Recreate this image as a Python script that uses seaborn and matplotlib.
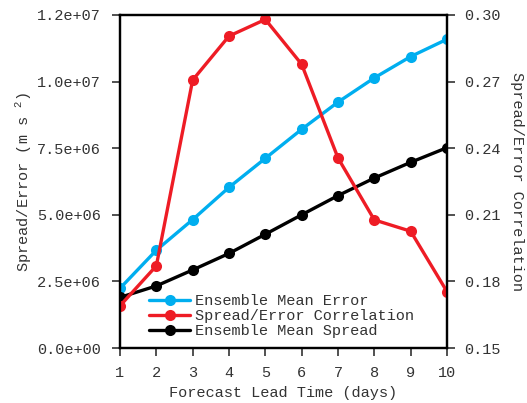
import pandas as pd
import matplotlib
matplotlib.use("Agg")
import matplotlib.pyplot as plt
from matplotlib.ticker import FormatStrFormatter, MultipleLocator
from matplotlib.lines import Line2D
import seaborn as sns

# Datos
dias = [1, 2, 3, 4, 5, 6, 7, 8, 9, 10]
error_medio = [2.24e6, 3.67e6, 4.82e6, 6.03e6, 7.12e6, 8.21e6, 9.23e6, 10.14e6, 10.94e6, 11.59e6]
dispersion_media = [1.90e6, 2.33e6, 2.93e6, 3.55e6, 4.27e6, 5.00e6, 5.72e6, 6.38e6, 6.97e6, 7.52e6]
correlacion = [0.169, 0.187, 0.2707, 0.2905, 0.298, 0.2778, 0.2356, 0.2077, 0.2026, 0.1754]

AZUL = "#00aeef"
ROJO = "#ee1c25"
NEGRO = "#000000"

sns.set_style("ticks")
plt.rcParams['font.family'] = ['Liberation Mono', 'DejaVu Sans Mono']
plt.rcParams['mathtext.fontset'] = 'custom'
plt.rcParams['mathtext.rm'] = 'Liberation Mono'
plt.rcParams['font.size'] = 11

izq = pd.DataFrame({
    'dia': dias * 2,
    'valor': error_medio + dispersion_media,
    'serie': ['Ensemble Mean Error'] * 10 + ['Ensemble Mean Spread'] * 10,
})
der = pd.DataFrame({'dia': dias, 'valor': correlacion})

fig, ax = plt.subplots(figsize=(5.27, 4.03), dpi=100)
fig.subplots_adjust(left=120 / 527, right=447 / 527, top=1 - 15 / 403, bottom=1 - 348 / 403)
ax2 = ax.twinx()

sns.lineplot(data=izq, x='dia', y='valor', hue='serie',
             palette={'Ensemble Mean Error': AZUL, 'Ensemble Mean Spread': NEGRO},
             marker='o', markersize=8, markeredgewidth=0, linewidth=2.4,
             legend=False, ax=ax)
sns.lineplot(data=der, x='dia', y='valor', color=ROJO,
             marker='o', markersize=8, markeredgewidth=0, linewidth=2.4,
             legend=False, ax=ax2)

ax.set_xlim(1, 10)
ax.set_ylim(0, 1.25e7)
ax2.set_ylim(0.15, 0.30)
ax.xaxis.set_major_locator(MultipleLocator(1))
ax.yaxis.set_major_locator(MultipleLocator(2.5e6))
ax2.yaxis.set_major_locator(MultipleLocator(0.03))
ax.yaxis.set_major_formatter(FormatStrFormatter('%.1e'))
ax2.yaxis.set_major_formatter(FormatStrFormatter('%.2f'))

for a in (ax, ax2):
    for s in a.spines.values():
        s.set_visible(True)
        s.set_linewidth(1.6)
        s.set_color('black')
    a.tick_params(direction='out', length=6, width=1.2, color='#333333',
                  labelsize=11, labelcolor='#333333')
ax.tick_params(axis='x', pad=7)
ax.tick_params(axis='y', pad=8)
ax2.tick_params(axis='y', pad=6)

ax.set_xlabel('Forecast Lead Time (days)', fontsize=11, color='#333333', labelpad=4)
ax.set_ylabel('Spread/Error (m s $^{2}$)', fontsize=11, color='#333333', labelpad=2)
ax2.set_ylabel('Spread/Error Correlation', fontsize=11, color='#333333',
               rotation=270, labelpad=17)

manejadores = [
    Line2D([], [], color=AZUL, marker='o', markersize=8, markeredgewidth=0, linewidth=2.4),
    Line2D([], [], color=ROJO, marker='o', markersize=8, markeredgewidth=0, linewidth=2.4),
    Line2D([], [], color=NEGRO, marker='o', markersize=8, markeredgewidth=0, linewidth=2.4),
]
etiquetas = ['Ensemble Mean Error', 'Spread/Error Correlation', 'Ensemble Mean Spread']
leg = ax2.legend(manejadores, etiquetas, loc='upper left',
                 bbox_to_anchor=(149 / 527, 1 - 294 / 403), bbox_transform=fig.transFigure,
                 frameon=False, borderpad=0, borderaxespad=0, labelspacing=0.08,
                 handlelength=2.7, handletextpad=0.3, fontsize=11)
for t in leg.get_texts():
    t.set_color('#333333')

fig.savefig('out.png', dpi=100)
